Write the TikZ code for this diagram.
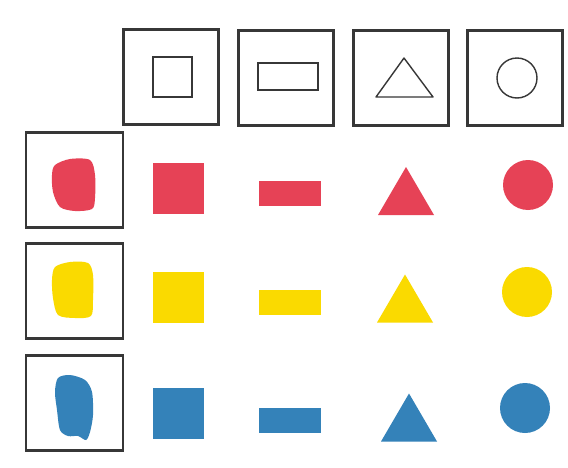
\documentclass[tikz,border=0pt]{standalone}
\usepackage{xcolor}
\definecolor{CardRed}{RGB}{230,66,86}
\definecolor{CardYellow}{RGB}{250,218,0}
\definecolor{CardBlue}{RGB}{52,130,185}
\definecolor{CardLine}{RGB}{55,55,55}

\begin{document}
\begin{tikzpicture}[x=0.02cm,y=-0.02cm,card/.style={rectangle,draw=CardLine,line width=1.2pt,minimum width=1.9cm,minimum height=1.9cm,inner sep=0pt},outline/.style={draw=CardLine,line width=0.8pt,inner sep=0pt},solid/.style={fill=#1,draw=none,inner sep=0pt}]
\useasboundingbox[fill=white](0,0) rectangle (568,467);
% shape cards along the top
\node[card](sq) at (171,77){};
\node[card](re) at (286,78){};
\node[card](tr) at (401,78){};
\node[card](ci) at (515,78){};
\node[outline,rectangle,minimum width=0.78cm,minimum height=0.8cm](sqo) at (172.5,77){};
\node[outline,rectangle,minimum width=1.2cm,minimum height=0.54cm](reo) at (288,76.5){};
\draw[outline,line join=round](376,97)--(404,58)--(433,97)--cycle;
\node[outline,circle,minimum size=0.8cm](cio) at (517,78){};
% colour cards down the left
\node[card,minimum width=1.94cm](red) at (74.5,180){};
\node[card,minimum width=1.94cm](yellow) at (74.5,291){};
\node[card,minimum width=1.94cm](blue) at (74.5,403){};
\fill[CardRed] plot[smooth cycle] coordinates {(55,165)(70,159)(90,160)(95,175)(95,198)(92,209)(75,211)(60,207)(53,192)(52,175)};
\fill[CardYellow] plot[smooth cycle] coordinates {(55,267)(70,262)(88,263)(93,275)(93,300)(91,316)(75,318)(58,315)(53,298)(52,280)};
\fill[CardBlue] plot[smooth cycle] coordinates {(58,378)(70,375)(85,380)(92,392)(93,415)(90,432)(86,440)(78,436)(68,436)(60,430)(57,410)(55,392)};
% the coloured shapes, one row per colour
\foreach \col/\nm/\sy/\ry/\tx/\ty/\cx/\cy in {CardRed/r/188/193/406/191/528/185,CardYellow/y/297/302/405/298.5/527/292,CardBlue/b/413.5/420.5/409/417.5/525/408}{
\node[solid=\col,rectangle,minimum width=1.04cm,minimum height=1.02cm](sq\nm) at (178.5,\sy){};
\node[solid=\col,rectangle,minimum width=1.25cm,minimum height=0.5cm](re\nm) at (290,\ry){};
\fill[\col](\tx-28,\ty+24)--(\tx,\ty-24)--(\tx+28,\ty+24)--cycle;
\node[solid=\col,circle,minimum size=1.0cm](ci\nm) at (\cx,\cy){};
}
\end{tikzpicture}
\end{document}
